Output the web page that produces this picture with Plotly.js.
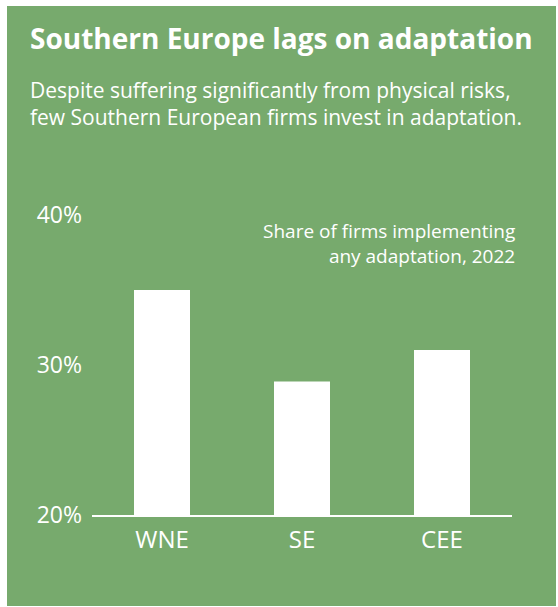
<!DOCTYPE html>
<html>
<head>
<meta charset="utf-8">
<script src="https://cdn.plot.ly/plotly-3.0.1.min.js"></script>
<style>
  html, body { margin: 0; padding: 0; background: #ffffff; }
  #chart { position: absolute; left: 7px; top: 6px; width: 549px; height: 600px; }
</style>
</head>
<body>
<div id="chart"></div>
<script>
const categories = ["WNE", "SE", "CEE"];
const shareValues = [35.0, 28.9, 31.0];
const tickValues = [20, 30, 40];
const tickLabels = ["20%", "30%", "40%"];
const titleText = "Southern Europe lags on adaptation";
const subtitleText = "Despite suffering significantly from physical risks,<br>few Southern European firms invest in adaptation.";
const noteText = "Share of firms implementing<br>any adaptation, 2022";

const green = "rgb(119,170,109)";
const fontFam = "'Open Sans', 'Noto Sans', sans-serif";

const trace = {
  type: "bar",
  x: categories,
  y: shareValues.map(v => v - 20),
  base: 20,
  marker: { color: "#ffffff", line: { width: 0 } },
  width: 0.4,
  hoverinfo: "skip"
};

const layout = {
  width: 549,
  height: 600,
  paper_bgcolor: green,
  plot_bgcolor: green,
  margin: { l: 85, r: 44, t: 209, b: 91, pad: 0 },
  showlegend: false,
  font: { family: fontFam, color: "#ffffff" },
  xaxis: {
    type: "category",
    range: [-0.5, 2.5],
    showline: true,
    linecolor: "#ffffff",
    linewidth: 2,
    showgrid: false,
    zeroline: false,
    ticks: "",
    tickfont: { size: 24, color: "#ffffff", family: fontFam },
    ticklabelstandoff: 2,
    fixedrange: true
  },
  yaxis: {
    range: [20, 40],
    showline: false,
    showgrid: false,
    zeroline: false,
    ticks: "",
    tickvals: tickValues,
    ticktext: tickLabels,
    tickfont: { size: 23, color: "#ffffff", family: fontFam },
    ticklabelstandoff: 9,
    fixedrange: true
  },
  annotations: [
    {
      text: "<b>" + titleText + "</b>",
      xref: "paper", yref: "paper",
      x: -0.152, y: 1.59,
      xanchor: "left", yanchor: "middle",
      showarrow: false,
      font: { size: 28, color: "#ffffff", family: fontFam }
    },
    {
      text: subtitleText,
      xref: "paper", yref: "paper",
      x: -0.152, y: 1.37,
      xanchor: "left", yanchor: "middle", align: "left",
      showarrow: false,
      font: { size: 21, color: "#ffffff", family: fontFam }
    },
    {
      text: noteText,
      xref: "paper", yref: "paper",
      x: 1.012, y: 0.905,
      xanchor: "right", yanchor: "middle", align: "right",
      showarrow: false,
      font: { size: 19, color: "#ffffff", family: fontFam }
    }
  ]
};

Plotly.newPlot("chart", [trace], layout, { displayModeBar: false, staticPlot: true });
</script>
</body>
</html>
